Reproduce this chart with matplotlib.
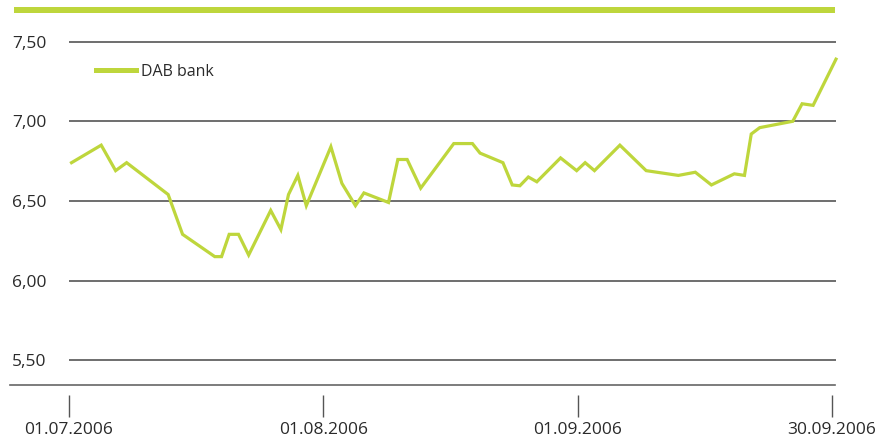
import matplotlib
matplotlib.use("Agg")
import matplotlib.pyplot as plt
from matplotlib.lines import Line2D
from matplotlib.patches import Rectangle

plt.rcParams['font.family'] = ['Open Sans', 'DejaVu Sans']

# Day offsets within the quarter (0 = 01.07.2006, 90 = 30.09.2006)
days = [0.3, 3.8, 5.5, 6.8, 11.7, 13.4, 17.2, 18.0, 18.9, 20.0, 21.2, 23.8, 25.0,
        25.9, 27.0, 28.0, 30.9, 32.2, 33.8, 34.8, 37.7, 38.8, 39.9, 41.5, 45.4,
        47.6, 48.5, 51.2, 52.3, 53.2, 54.2, 55.2, 58.0, 59.9, 60.9, 62.0, 65.0,
        68.1, 71.9, 73.9, 75.8, 78.5, 79.7, 80.5, 81.5, 85.4, 86.5, 87.8, 90.5]
price = [6.74, 6.85, 6.69, 6.74, 6.54, 6.29, 6.15, 6.15, 6.29, 6.29, 6.16, 6.44, 6.32,
         6.54, 6.66, 6.47, 6.84, 6.61, 6.47, 6.55, 6.49, 6.76, 6.76, 6.58, 6.86,
         6.86, 6.80, 6.74, 6.60, 6.595, 6.65, 6.62, 6.77, 6.69, 6.74, 6.69, 6.85,
         6.69, 6.66, 6.68, 6.60, 6.67, 6.66, 6.92, 6.96, 7.00, 7.11, 7.10, 7.39]
series_name = "DAB bank"
y_ticks = [5.5, 6.0, 6.5, 7.0, 7.5]
y_labels = ["5,50", "6,00", "6,50", "7,00", "7,50"]
x_ticks = [0, 30, 60, 90]
x_labels = ["01.07.2006", "01.08.2006", "01.09.2006", "30.09.2006"]

GREEN = "#bed63c"
GRID = "#555555"
TEXT = "#2a2a2a"

W, H = 875, 438
fig = plt.figure(figsize=(W / 100, H / 100), dpi=100)

def fx(px):
    return px / W

def fy(py):
    return 1 - py / H

ax = fig.add_axes([fx(69), fy(395), fx(836) - fx(69), fy(20) - fy(395)])
ax.set_xlim(0.08, 90.5)
ax.set_ylim(5.281, 7.636)

ax.plot(days, price, color=GREEN, lw=2.3, solid_joinstyle='miter', clip_on=False,
        label=series_name, zorder=3)

ax.set_yticks(y_ticks)
ax.set_yticklabels(y_labels)
ax.set_xticks(x_ticks)
ax.set_xticklabels(x_labels)
ax.grid(axis='y', color=GRID, lw=1.2)
ax.set_axisbelow(True)
for s in ax.spines.values():
    s.set_visible(False)
ax.tick_params(axis='y', length=0, pad=16, labelsize=12.5, labelcolor=TEXT)
ax.tick_params(axis='x', direction='out', length=15.8, width=1, color=GRID,
               pad=4, labelsize=12.5, labelcolor=TEXT)

leg = ax.legend(loc='center left', bbox_to_anchor=(fx(96), fy(72)),
                bbox_transform=fig.transFigure, frameon=False, fontsize=11.5,
                handlelength=2.5, handletextpad=0.3, borderpad=0, borderaxespad=0)
for t in leg.get_texts():
    t.set_color(TEXT)
for h in leg.legend_handles:
    h.set_linewidth(3.6)

# top green band
fig.patches.append(Rectangle((fx(14), fy(12.7)), fx(835) - fx(14), fy(7) - fy(12.7),
                             transform=fig.transFigure, color=GREEN, lw=0))
# bottom baseline
fig.lines.append(Line2D([fx(10), fx(835)], [fy(385), fy(385)],
                        transform=fig.transFigure, color="#666666", lw=1.2))

fig.savefig("out.png", dpi=100)
